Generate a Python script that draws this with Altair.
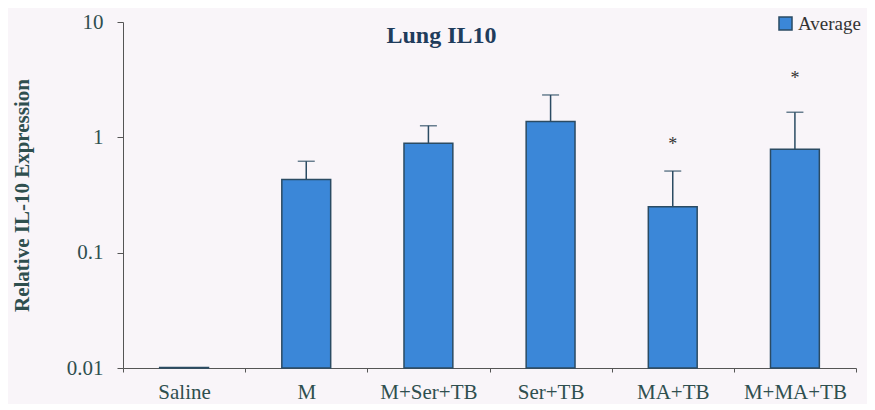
import altair as alt
import pandas as pd

groups = ["Saline", "M", "M+Ser+TB", "Ser+TB", "MA+TB", "M+MA+TB"]
means = [0.0101, 0.43, 0.89, 1.37, 0.25, 0.79]
uppers = [0.0101, 0.62, 1.26, 2.33, 0.51, 1.65]
star_groups = ["MA+TB", "M+MA+TB"]
star_y = [0.86, 3.2]

df = pd.DataFrame({"group": groups, "mean": means, "upper": uppers,
                   "base": [0.01] * len(groups), "series": ["Average"] * len(groups)})
stars = pd.DataFrame({"group": star_groups, "y": star_y, "t": ["*"] * len(star_groups)})

FONT = "Liberation Serif"
TXT = "#2f4f4f"
BLUE = "#3b87d8"
EDGE = "#2b4b63"

xenc = alt.X("group:N", sort=groups, title=None,
             scale=alt.Scale(paddingInner=0, paddingOuter=0),
             axis=alt.Axis(labelAngle=0, tickBand="extent", labelFont=FONT, labelFontSize=21,
                           labelColor=TXT, domainColor="#555", tickColor="#555", tickSize=4,
                           labelPadding=9))
yscale = alt.Scale(type="log", domain=[0.01, 10])
yaxis = alt.Axis(values=[0.01, 0.1, 1, 10], format="~g", labelFont=FONT, labelFontSize=21,
                 labelColor=TXT, domainColor="#555", tickColor="#555", tickSize=6, grid=False,
                 labelPadding=14, title="Relative IL-10 Expression", titleFont=FONT,
                 titleFontSize=21, titleFontWeight="bold", titleColor=TXT, titleX=-101,
                 titleY=173, titleAlign="center", titleBaseline="middle", titleAngle=-90)

bars = alt.Chart(df).mark_bar(stroke=EDGE, strokeWidth=1.5, width=alt.RelativeBandSize(0.4)).encode(
    x=xenc,
    y=alt.Y("mean:Q", scale=yscale, axis=yaxis),
    y2="base:Q",
    color=alt.Color("series:N", scale=alt.Scale(range=[BLUE]),
                    legend=alt.Legend(title=None, orient="none", legendX=653, legendY=-8,
                                      symbolType="square", symbolSize=170, symbolStrokeColor=EDGE,
                                      symbolStrokeWidth=1.5, labelFont=FONT, labelFontSize=19,
                                      labelColor="#333", symbolOpacity=1, labelOffset=3)),
)

err = alt.Chart(df[df["group"] != "Saline"]).mark_rule(color=EDGE, strokeWidth=1.5).encode(
    x=alt.X("group:N", sort=groups), y=alt.Y("mean:Q", scale=yscale), y2="upper:Q")
caps = alt.Chart(df[df["group"] != "Saline"]).mark_tick(color=EDGE, size=17, thickness=1.5, orient="horizontal").encode(
    x=alt.X("group:N", sort=groups), y=alt.Y("upper:Q", scale=yscale))
star = alt.Chart(stars).mark_text(font=FONT, fontSize=18, color="#333", baseline="middle").encode(
    x=alt.X("group:N", sort=groups), y=alt.Y("y:Q", scale=yscale), text="t:N")

chart = alt.layer(bars, err, caps, star).properties(
    width=733, height=346,
    title=alt.TitleParams("Lung IL10", font=FONT, fontSize=24, fontWeight="bold", color="#1f3c5c",
                          anchor="middle", dx=-48, dy=41),
    background="#f9f5f9",
    padding={"left": 115, "top": 14, "right": 11, "bottom": 36},
    autosize=alt.AutoSizeParams(type="none"),
).configure_view(stroke=None)

chart.save("out.html", embed_options={"renderer": "svg", "actions": False})
